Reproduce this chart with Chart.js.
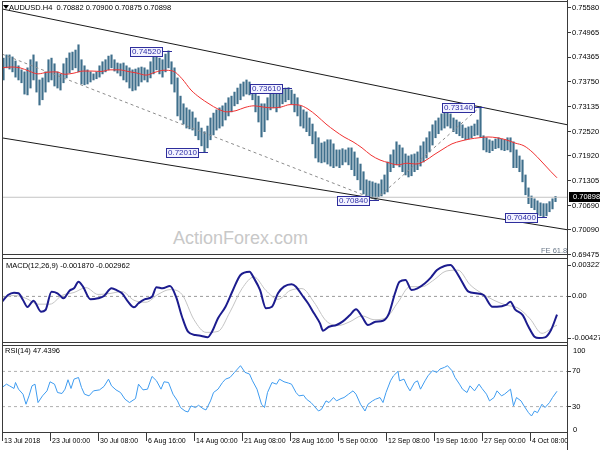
<!DOCTYPE html>
<html>
<head>
<meta charset="utf-8">
<script src="https://cdn.jsdelivr.net/npm/chart.js@4.4.0/dist/chart.umd.min.js"></script>
<style>
  body { margin: 0; background: #fff; }
  #wrap { position: relative; width: 600px; height: 450px; overflow: hidden; font-family: "Liberation Sans", Arial, sans-serif; }
  canvas { position: absolute; left: 0; top: 0; }
  .txt { position: absolute; white-space: nowrap; font-size: 7.5px; line-height: 9px; color: #000; }
  .vline { position: absolute; width: 1px; background: #3a3a3a; }
  .tri { position: absolute; left: 3px; top: 5px; width: 0; height: 0; border-left: 3px solid transparent; border-right: 3px solid transparent; border-top: 4px solid #000; }
</style>
</head>
<body>
<div id="wrap">
  <div class="txt" style="left:173px;top:229px;font-size:18px;line-height:18px;color:#c8c8c8">ActionForex.com</div>
  <canvas id="main" width="600" height="450"></canvas>
  <canvas id="macd" width="600" height="450"></canvas>
  <canvas id="rsi" width="600" height="450"></canvas>
  <div class="vline" style="left:567px;top:0;height:450px"></div>
  <div class="vline" style="left:2px;top:1px;height:432px"></div>
  <div class="tri"></div>
  <div class="txt" style="left:9px;top:3px">AUDUSD.H4&nbsp; 0.70882 0.70900 0.70875 0.70898</div>
  <div class="txt" style="left:541px;top:246px;color:#6a7888">FE 61.8</div>
  <div class="txt" style="left:6px;top:261px">MACD(12,26,9) -0.001870 -0.002962</div>
  <div class="txt" style="left:5px;top:346px">RSI(14) 47.4396</div>
  <div class="txt" style="left:573px;top:346px">100</div>
  <div class="txt" style="left:573px;top:425px">0</div>
</div>
<script>
// ── Price bars (each sample = 2 four-hour bars, x = 2*j+1) ──
const barHigh = [
  0.7434, 0.7442, 0.7442, 0.7437, 0.7427, 0.7415, 0.7405, 0.7400, 0.7410, 0.7430,
  0.7442, 0.7425, 0.7380, 0.7385, 0.7400, 0.7430, 0.7434, 0.7420, 0.7400, 0.7395,
  0.7420, 0.7434, 0.7447, 0.7449, 0.7454, 0.7467, 0.7430, 0.7415, 0.7405, 0.7400,
  0.7395, 0.7400, 0.7415, 0.7425, 0.7430, 0.7439, 0.7442, 0.7430, 0.7422, 0.7420,
  0.7422, 0.7415, 0.7410, 0.7405, 0.7407, 0.7410, 0.7412, 0.7410, 0.7405, 0.7425,
  0.7439, 0.7442, 0.7434, 0.7430, 0.7444, 0.7452, 0.7425, 0.7410, 0.7385, 0.7340,
  0.7321, 0.7311, 0.7306, 0.7301, 0.7286, 0.7276, 0.7261, 0.7252, 0.7266, 0.7286,
  0.7298, 0.7306, 0.7311, 0.7316, 0.7323, 0.7336, 0.7340, 0.7350, 0.7360, 0.7370,
  0.7375, 0.7380, 0.7375, 0.7365, 0.7360, 0.7340, 0.7321, 0.7321, 0.7336, 0.7355,
  0.7355, 0.7345, 0.7350, 0.7358, 0.7360, 0.7361, 0.7355, 0.7345, 0.7336, 0.7316,
  0.7306, 0.7301, 0.7286, 0.7271, 0.7252, 0.7237, 0.7224, 0.7227, 0.7232, 0.7232,
  0.7222, 0.7207, 0.7207, 0.7210, 0.7207, 0.7212, 0.7212, 0.7202, 0.7187, 0.7172,
  0.7153, 0.7133, 0.7130, 0.7128, 0.7125, 0.7123, 0.7133, 0.7145, 0.7177, 0.7195,
  0.7207, 0.7227, 0.7219, 0.7212, 0.7197, 0.7192, 0.7195, 0.7197, 0.7202, 0.7217,
  0.7227, 0.7237, 0.7252, 0.7269, 0.7279, 0.7286, 0.7296, 0.7301, 0.7303, 0.7296,
  0.7286, 0.7281, 0.7276, 0.7269, 0.7261, 0.7264, 0.7266, 0.7271, 0.7281, 0.7314,
  0.7242, 0.7237, 0.7232, 0.7229, 0.7234, 0.7237, 0.7234, 0.7232, 0.7237, 0.7237,
  0.7227, 0.7207, 0.7192, 0.7182, 0.7145, 0.7113, 0.7093, 0.7086, 0.7081, 0.7076,
  0.7074, 0.7074, 0.7079, 0.7086, 0.7092
];
const barLow = [
  0.7380, 0.7410, 0.7407, 0.7400, 0.7387, 0.7380, 0.7373, 0.7345, 0.7343, 0.7360,
  0.7380, 0.7350, 0.7318, 0.7331, 0.7350, 0.7375, 0.7380, 0.7365, 0.7360, 0.7355,
  0.7373, 0.7385, 0.7397, 0.7405, 0.7410, 0.7400, 0.7370, 0.7368, 0.7370, 0.7375,
  0.7380, 0.7383, 0.7387, 0.7395, 0.7400, 0.7405, 0.7410, 0.7402, 0.7397, 0.7390,
  0.7380, 0.7375, 0.7360, 0.7353, 0.7355, 0.7365, 0.7375, 0.7380, 0.7375, 0.7385,
  0.7395, 0.7405, 0.7395, 0.7387, 0.7400, 0.7410, 0.7370, 0.7350, 0.7291, 0.7281,
  0.7271, 0.7261, 0.7259, 0.7256, 0.7242, 0.7232, 0.7217, 0.7201, 0.7212, 0.7232,
  0.7244, 0.7256, 0.7261, 0.7266, 0.7281, 0.7291, 0.7301, 0.7316, 0.7321, 0.7331,
  0.7340, 0.7345, 0.7343, 0.7331, 0.7301, 0.7276, 0.7239, 0.7252, 0.7281, 0.7306,
  0.7311, 0.7301, 0.7311, 0.7321, 0.7326, 0.7331, 0.7321, 0.7301, 0.7291, 0.7266,
  0.7261, 0.7252, 0.7242, 0.7222, 0.7187, 0.7177, 0.7175, 0.7177, 0.7172, 0.7167,
  0.7163, 0.7167, 0.7163, 0.7170, 0.7177, 0.7170, 0.7158, 0.7143, 0.7133, 0.7108,
  0.7098, 0.7093, 0.7091, 0.7088, 0.7084, 0.7091, 0.7093, 0.7098, 0.7103, 0.7153,
  0.7163, 0.7170, 0.7165, 0.7153, 0.7145, 0.7140, 0.7143, 0.7153, 0.7158, 0.7167,
  0.7177, 0.7187, 0.7202, 0.7219, 0.7237, 0.7247, 0.7256, 0.7261, 0.7266, 0.7261,
  0.7252, 0.7247, 0.7242, 0.7237, 0.7232, 0.7234, 0.7237, 0.7242, 0.7244, 0.7239,
  0.7207, 0.7202, 0.7200, 0.7205, 0.7210, 0.7212, 0.7207, 0.7205, 0.7207, 0.7202,
  0.7163, 0.7163, 0.7153, 0.7128, 0.7096, 0.7074, 0.7064, 0.7059, 0.7046, 0.7044,
  0.7040, 0.7044, 0.7054, 0.7061, 0.7079
];
const lastPrice = 0.70898;

// ── Moving average (red) ──
const maBar = [0, 6, 12, 18, 24, 30, 36, 42, 48, 54, 60, 66, 72, 78, 84, 90, 96, 102, 108, 114,
  120, 126, 132, 138, 144, 150, 156, 162, 168, 174, 180, 186, 192, 198, 204, 210, 216, 222, 228, 234,
  240, 246, 252, 258, 264, 270, 276, 282, 288, 294, 300, 306, 312, 318, 324, 330, 336, 342, 348, 354,
  360, 366, 370];
const maVal = [0.7410, 0.7412, 0.7410, 0.7402, 0.7395, 0.7399, 0.7400, 0.7394, 0.7397, 0.7402,
  0.7402, 0.7401, 0.7405, 0.7405, 0.7401, 0.7397, 0.7392, 0.7399, 0.7404, 0.7402,
  0.7383, 0.7355, 0.7336, 0.7321, 0.7308, 0.7301, 0.7304, 0.7312, 0.7316, 0.7313,
  0.7311, 0.7313, 0.7319, 0.7318, 0.7308, 0.7291, 0.7271, 0.7254, 0.7239, 0.7227,
  0.7212, 0.7194, 0.7182, 0.7175, 0.7170, 0.7174, 0.7172, 0.7180, 0.7195, 0.7209,
  0.7222, 0.7229, 0.7234, 0.7237, 0.7239, 0.7237, 0.7232, 0.7224, 0.7217, 0.7200,
  0.7177, 0.7153, 0.7138];

// ── Drawn lines: [bar, price] end points ──
const upperChannel = [[0, 0.75556], [377.33, 0.72688]];
const lowerChannel = [[0, 0.72367], [377.33, 0.70092]];
const feLegA = [[0, 0.7444], [249, 0.7084]];
const feLegB = [[249, 0.7084], [319, 0.7314]];

// ── Pivot labels ──
const pivotBar = [111, 135, 191, 249, 319, 361];
const pivotPrice = [0.7452, 0.7201, 0.7361, 0.7084, 0.7314, 0.7040];

// ── Axes ──
const priceTicks = [0.75580, 0.74965, 0.74365, 0.73750, 0.73135, 0.72520, 0.71920, 0.71305, 0.70690, 0.70090, 0.69475];
const timeTickBar = [0, 32, 64, 96, 128, 160, 192, 224, 256, 288, 320, 352];
const timeTickLabel = ['13 Jul 2018', '23 Jul 00:00', '30 Jul 08:00', '6 Aug 16:00', '14 Aug 00:00', '21 Aug 08:00',
  '28 Aug 16:00', '5 Sep 00:00', '12 Sep 08:00', '19 Sep 16:00', '27 Sep 00:00', '4 Oct 08:00'];

// ── MACD ──
const macdBar = [0, 4, 8, 11, 14, 17, 21, 26, 29, 33, 37, 41, 45, 48, 51, 54, 59, 64, 68, 73,
  77, 80, 84, 88, 91, 95, 100, 103, 107, 112, 116, 120, 124, 129, 133, 137, 140, 144, 149, 154,
  159, 165, 168, 172, 176, 180, 184, 188, 193, 196, 200, 204, 208, 212, 214, 218, 223, 227, 232, 236,
  240, 244, 249, 254, 258, 262, 265, 269, 273, 277, 282, 286, 290, 295, 299, 302, 306, 311, 316, 321,
  327, 330, 336, 339, 342, 347, 351, 355, 358, 362, 366, 370];
const macdVal = [-0.00054, 0.00014, 0.00038, 0.00032, -0.00037, -0.00109, -0.00044, -0.00157, -0.00140, 0.00048,
  0.00032, -0.00020, 0.00059, 0.00083, 0.00151, 0.00100, -0.00030, -0.00020, 0.00004, 0.00083,
  0.00059, 0.00032, -0.00054, -0.00112, -0.00071, -0.00030, -0.00003, 0.00094, 0.00083, 0.00107,
  -0.00003, -0.00209, -0.00363, -0.00397, -0.00407, -0.00421, -0.00363, -0.00225, -0.00106, 0.00066,
  0.00220, 0.00254, 0.00186, 0.00066, -0.00122, -0.00106, 0.00032, 0.00100, 0.00124, 0.00100,
  0.00014, -0.00071, -0.00174, -0.00277, -0.00353, -0.00312, -0.00294, -0.00260, -0.00191, -0.00133,
  -0.00209, -0.00294, -0.00260, -0.00250, -0.00174, 0.00032, 0.00151, 0.00169, 0.00066, 0.00083,
  0.00135, 0.00196, 0.00271, 0.00313, 0.003227, 0.00271, 0.00169, 0.00048, 0.00032, 0.00014,
  -0.00106, -0.00106, -0.00088, -0.00054, -0.00133, -0.00191, -0.00312, -0.00414, -0.004279, -0.00421,
  -0.00345, -0.00187];
const signalBar = [0, 8, 16, 24, 32, 40, 48, 56, 64, 72, 80, 88, 96, 104, 112, 120, 128, 136, 144, 152,
  160, 168, 176, 184, 192, 200, 208, 216, 224, 232, 240, 248, 256, 264, 272, 280, 288, 296, 304, 312,
  320, 328, 336, 344, 352, 360, 368, 370];
const signalVal = [-0.0002, 0.0001, -0.0002, -0.0008, -0.0008, 0.0001, 0.0004, 0.0009, 0.0002, 0.0003,
  0.0005, -0.0004, -0.0006, 0.0002, 0.0007, 0.0002, -0.0024, -0.0037, -0.0036, -0.0016,
  0.0008, 0.0020, 0.0006, -0.0003, 0.0006, 0.0008, -0.0006, -0.0025, -0.0030, -0.0026,
  -0.0020, -0.0024, -0.0022, -0.0006, 0.0010, 0.0010, 0.0017, 0.0026, 0.0027, 0.0012,
  0.0003, -0.0004, -0.0009, -0.0012, -0.0023, -0.0038, -0.0031, -0.002962];
const macdTicks = [0.003227, 0, -0.004279];
const macdLevels = [0];

// ── RSI ──
const rsiBar = [0, 3, 5, 8, 9, 11, 14, 16, 18, 20, 22, 24, 27, 30, 32, 35, 37, 40, 42, 44,
  46, 48, 51, 53, 55, 58, 61, 65, 68, 71, 73, 76, 79, 82, 85, 89, 91, 94, 97, 100,
  103, 106, 108, 111, 114, 117, 119, 122, 124, 126, 129, 131, 134, 136, 139, 141, 144, 147, 149, 152,
  155, 157, 159, 162, 165, 167, 170, 173, 175, 177, 180, 183, 185, 188, 191, 193, 196, 198, 201, 203,
  206, 208, 211, 213, 216, 218, 221, 223, 226, 228, 231, 234, 236, 239, 242, 244, 247, 249, 252, 254,
  256, 259, 261, 264, 265, 268, 270, 272, 275, 277, 279, 282, 284, 287, 290, 292, 295, 297, 300, 302,
  305, 307, 310, 312, 315, 318, 320, 323, 325, 328, 330, 333, 335, 339, 341, 343, 346, 348, 351, 353,
  355, 357, 360, 362, 365, 367, 370];
const rsiVal = [51.7, 55.5, 53.6, 50.6, 57.4, 49.8, 44.1, 32.7, 42.2, 53.6, 55.5, 34.6, 42.2, 47.9, 58.2, 55.5, 46.0, 44.9, 49.8, 60.5,
  50.6, 61.2, 63.1, 51.7, 44.1, 42.2, 47.9, 49.0, 52.9, 61.2, 53.6, 49.0, 46.0, 38.4, 34.6, 39.1, 55.5, 49.0, 49.8, 64.3,
  59.3, 49.8, 58.2, 57.4, 44.1, 36.5, 28.9, 25.0, 23.9, 30.8, 28.9, 31.5, 27.7, 26.2, 36.5, 46.0, 49.8, 57.4, 61.2, 63.1,
  68.9, 72.7, 76.5, 68.9, 67.0, 59.3, 49.8, 32.7, 28.9, 46.0, 57.4, 55.5, 61.2, 58.2, 56.7, 55.5, 46.0, 42.2, 43.0, 38.4,
  34.6, 30.8, 25.0, 26.9, 36.5, 34.6, 40.3, 36.5, 39.1, 40.3, 44.1, 47.9, 44.1, 32.7, 25.0, 32.7, 36.5, 38.4, 40.3, 34.6,
  46.0, 59.3, 65.0, 70.0, 59.3, 61.2, 53.6, 47.9, 57.4, 59.3, 49.8, 59.3, 65.0, 70.8, 68.9, 72.7, 74.6, 76.5, 70.8, 63.1,
  55.5, 49.8, 46.0, 53.6, 47.9, 55.5, 50.6, 44.1, 36.5, 40.3, 47.9, 42.2, 44.1, 49.8, 30.8, 40.3, 36.5, 30.8, 23.1, 19.3,
  25.0, 23.1, 32.7, 28.9, 34.6, 40.3, 47.44];
const rsiTicks = [70, 30];
const rsiLevels = [70, 30];

// ── Chart defaults ──
Chart.defaults.font.family = '"Liberation Sans", Arial, sans-serif';
Chart.defaults.font.size = 7.5;
Chart.defaults.color = '#000';
Chart.defaults.animation = false;

const X_MAX = 377.33;
const FRAME = '#3a3a3a';

const pts = (xs, ys) => ys.map((v, i) => ({ x: xs[i], y: v }));
const seg = pair => pair.map(p => ({ x: p[0], y: p[1] }));
const level = v => [{ x: 0, y: v }, { x: X_MAX, y: v }];

function fixY(scale) { scale.width = 32; scale.paddingTop = 0; scale.paddingBottom = 0; }
function fixX(scale) { scale.height = 17; scale.paddingLeft = 0; scale.paddingRight = 0; }

function hiddenX() {
    return { type: 'linear', min: 0, max: X_MAX, offset: false, display: false };
}
function rightY(min, max, ticks, fmt) {
    return {
        type: 'linear', position: 'right', min, max, bounds: 'data', beginAtZero: false,
        afterBuildTicks: s => { s.ticks = ticks.map(v => ({ value: v })); },
        afterFit: fixY,
        grid: { drawOnChartArea: false, drawTicks: true, tickLength: 3, color: FRAME },
        border: { display: false },
        ticks: { autoSkip: false, padding: 1, callback: fmt }
    };
}
function baseOpts(padTop, padBottom, scales) {
    return {
        responsive: false, devicePixelRatio: 1,
        layout: { padding: { left: 2, right: 0, top: padTop, bottom: padBottom } },
        plugins: { legend: { display: false }, tooltip: { enabled: false } },
        scales
    };
}

// ── Plugins ──
const framePlugin = {
    id: 'frame',
    afterDraw(chart) {
        const { ctx, chartArea: a } = chart;
        ctx.save();
        ctx.strokeStyle = FRAME; ctx.lineWidth = 1;
        ctx.strokeRect(a.left + 0.5, a.top + 0.5, a.right - a.left - 1, a.bottom - a.top - 1);
        ctx.restore();
    }
};

const pivotPlugin = {
    id: 'pivots',
    afterDatasetsDraw(chart) {
        const { ctx, scales: { x, y } } = chart;
        ctx.save();
        ctx.font = '8px "Liberation Sans", Arial, sans-serif';
        ctx.textBaseline = 'middle';
        ctx.lineWidth = 1;
        pivotBar.forEach((b, i) => {
            const px = Math.round(x.getPixelForValue(b));
            const py = Math.round(y.getPixelForValue(pivotPrice[i]));
            const txt = pivotPrice[i].toFixed(5);
            const w = Math.round(ctx.measureText(txt).width) + 3;
            const bx = px - 7 - w;
            ctx.strokeStyle = '#2e2e9c';
            ctx.beginPath(); ctx.moveTo(bx + w, py + 0.5); ctx.lineTo(px + 3, py + 0.5); ctx.stroke();
            ctx.fillStyle = '#f3f3ff';
            ctx.fillRect(bx, py - 4, w, 9);
            ctx.strokeRect(bx + 0.5, py - 3.5, w, 9);
            ctx.fillStyle = '#2e2ea6';
            ctx.fillText(txt, bx + 2, py + 1);
        });
        ctx.restore();
    }
};

const lastPricePlugin = {
    id: 'lastPrice',
    afterDraw(chart) {
        const { ctx, chartArea: a, scales: { y } } = chart;
        const py = Math.round(y.getPixelForValue(lastPrice));
        ctx.save();
        ctx.fillStyle = '#000';
        ctx.fillRect(a.right + 1, py - 5, 600 - a.right - 1, 10);
        ctx.fillStyle = '#fff';
        ctx.font = '7.5px "Liberation Sans", Arial, sans-serif';
        ctx.textBaseline = 'middle';
        ctx.fillText(lastPrice.toFixed(5), a.right + 5, py);
        ctx.restore();
    }
};

// ── Main price panel ──
const lineDs = (data, color, extra) => Object.assign({
    type: 'line', data, borderColor: color, borderWidth: 1, pointRadius: 0, fill: false, order: 1
}, extra || {});

new Chart(document.getElementById('main'), {
    type: 'bar',
    data: {
        datasets: [
            lineDs(level(lastPrice), '#c4c4c4', { order: 3 }),
            lineDs(pts(maBar, maVal), '#f03232', { cubicInterpolationMode: 'monotone' }),
            lineDs(seg(upperChannel), '#1a1a1a'),
            lineDs(seg(lowerChannel), '#1a1a1a'),
            lineDs(seg(feLegA), '#8c8c8c', { borderDash: [3, 3] }),
            lineDs(seg(feLegB), '#8c8c8c', { borderDash: [3, 3] }),
            {
                type: 'bar',
                data: barHigh.map((h, j) => ({ x: 2 * j + 1, y: [barLow[j], h] })),
                backgroundColor: '#3f6f8c', borderWidth: 0, barThickness: 1.5, order: 5
            }
        ]
    },
    options: baseOpts(1, 195, {
        x: hiddenX(),
        y: rightY(0.6947, 0.75753, priceTicks, v => v.toFixed(5))
    }),
    plugins: [framePlugin, pivotPlugin, lastPricePlugin]
});

// ── MACD panel ──
new Chart(document.getElementById('macd'), {
    type: 'line',
    data: {
        datasets: [
            ...macdLevels.map(v => lineDs(level(v), '#9a9a9a', { borderDash: [3, 3], order: 3 })),
            lineDs(pts(signalBar, signalVal), '#c4c4c4', { cubicInterpolationMode: 'monotone', order: 2 }),
            lineDs(pts(macdBar, macdVal), '#1c1c8e', { borderWidth: 2, cubicInterpolationMode: 'monotone' })
        ]
    },
    options: baseOpts(258, 107, {
        x: hiddenX(),
        y: rightY(-0.004793, 0.003947, macdTicks, v => v === 0 ? '0.00' : v.toFixed(6))
    }),
    plugins: [framePlugin]
});

// ── RSI panel ──
new Chart(document.getElementById('rsi'), {
    type: 'line',
    data: {
        datasets: [
            ...rsiLevels.map(v => lineDs(level(v), '#b0b0b0', { borderDash: [3, 3], order: 3 })),
            lineDs(pts(rsiBar, rsiVal), '#3f9cf0')
        ]
    },
    options: baseOpts(345, 0, {
        x: {
            type: 'linear', min: 0, max: X_MAX, offset: false,
            afterBuildTicks: s => { s.ticks = timeTickBar.map(v => ({ value: v })); },
            afterFit: fixX,
            grid: { drawOnChartArea: false, drawTicks: true, tickLength: 8, color: FRAME },
            border: { display: false },
            ticks: { autoSkip: false, maxRotation: 0, align: 'start', labelOffset: 2, padding: -4, font: { size: 7 },
                     callback: (v, i) => timeTickLabel[i] }
        },
        y: rightY(0, 100, rsiTicks, v => String(v))
    }),
    plugins: [framePlugin]
});
</script>
</body>
</html>
